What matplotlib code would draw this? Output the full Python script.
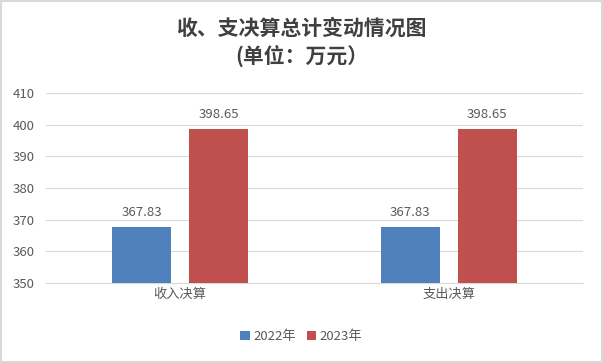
import matplotlib
matplotlib.use("Agg")
import matplotlib.pyplot as plt
import numpy as np

plt.rcParams['font.family'] = ['Noto Sans CJK SC', 'DejaVu Sans']

# data
categories = ['收入决算', '支出决算']
years = ['2022年', '2023年']
values_2022 = [367.83, 367.83]
values_2023 = [398.65, 398.65]
colors = ['#4F81BD', '#C0504D']
text_color = '#595959'

fig = plt.figure(figsize=(6.03, 3.63), dpi=100)
ax = fig.add_axes([0.076, 0.2204, 0.891, 0.5234])

x = np.arange(len(categories))
w = 0.22
off = 0.143
bars1 = ax.bar(x - off, values_2022, w, color=colors[0], label=years[0], zorder=3)
bars2 = ax.bar(x + off, values_2023, w, color=colors[1], label=years[1], zorder=3)

for bars in (bars1, bars2):
    for b in bars:
        ax.text(b.get_x() + b.get_width() / 2, b.get_height() + 2.5, f'{b.get_height():.2f}',
                ha='center', va='bottom', fontsize=9.5, color=text_color)

ax.set_ylim(350, 410)
ax.set_xlim(-0.5, 1.5)
ax.set_yticks(range(350, 411, 10))
ax.set_xticks(x)
ax.set_xticklabels(categories)
ax.tick_params(axis='both', length=0, labelsize=9.5, colors=text_color)
ax.tick_params(axis='y', pad=8)
ax.grid(axis='y', color='#D9D9D9', linewidth=0.8, zorder=0)
for s in ['top', 'right', 'left']:
    ax.spines[s].set_visible(False)
ax.spines['bottom'].set_color('#D9D9D9')

fig.text(0.5, 0.922, '收、支决算总计变动情况图', ha='center', va='center',
         fontsize=15, fontweight='bold', color='#404040')
fig.text(0.5, 0.847, '(单位：万元）', ha='center', va='center',
         fontsize=15, fontweight='bold', color='#404040')

fig.legend(loc='center', bbox_to_anchor=(0.5, 0.073), ncol=2, frameon=False,
           fontsize=9.5, handlelength=0.7, handleheight=0.7, handletextpad=0.3,
           columnspacing=0.8, labelcolor=text_color)

# light frame round the picture
fig.patches.append(plt.Rectangle((0.002, 0.003), 0.996, 0.994, transform=fig.transFigure,
                                 fill=False, edgecolor='#D9D9D9', linewidth=1.5))

fig.savefig('out.png', dpi=100)
